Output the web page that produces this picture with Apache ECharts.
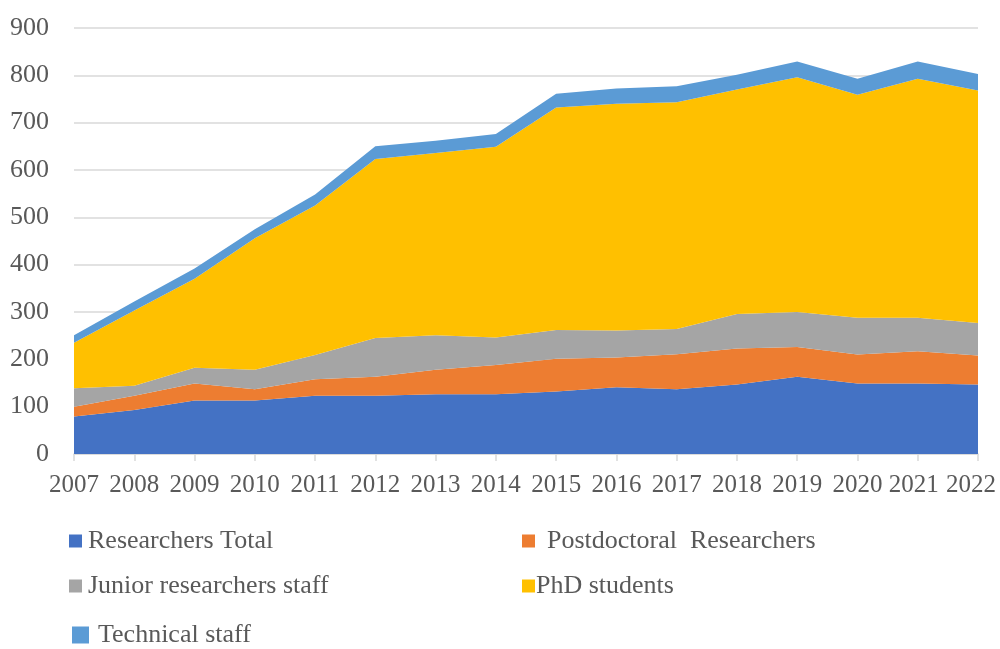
<!DOCTYPE html>
<html>
<head>
<meta charset="utf-8">
<script src="https://cdn.jsdelivr.net/npm/echarts@6/dist/echarts.min.js"></script>
<style>
  html, body { margin: 0; padding: 0; background: #ffffff; }
  #chart { width: 1000px; height: 649px; }
</style>
</head>
<body>
<div id="chart"></div>
<script>
// Staff headcount by year, stacked by category
const years = ['2007','2008','2009','2010','2011','2012','2013','2014','2015','2016','2017','2018','2019','2020','2021','2022'];
const researchersTotal = [79, 93, 113, 113, 123, 123, 126, 126, 132, 141, 137, 147, 163, 149, 149, 147];
const postdocs        = [21, 30, 36, 24, 35, 40, 52, 62, 69, 63, 74, 76, 63, 61, 68, 61];
const juniorStaff     = [39, 21, 33, 41, 51, 82, 73, 58, 61, 57, 53, 73, 74, 78, 71, 69];
const phdStudents     = [96, 159, 188, 278, 316, 378, 385, 403, 470, 479, 479, 474, 496, 471, 505, 491];
const technicalStaff  = [16, 19, 22, 19, 23, 27, 26, 27, 29, 32, 34, 31, 33, 34, 36, 35];

const seriesNames = ['Researchers Total', 'Postdoctoral  Researchers', 'Junior researchers staff', 'PhD students', 'Technical staff'];
const seriesData = [researchersTotal, postdocs, juniorStaff, phdStudents, technicalStaff];
const colors = ['#4472C4', '#ED7D31', '#A5A5A5', '#FFC000', '#5B9BD5'];

const FONT = '"Liberation Serif", "Times New Roman", serif';
const TEXT = '#595959';
const GRID = '#d9d9d9';

function legendAt(name, left, top, size, pad) {
  return {
    data: [name],
    left: left,
    top: top,
    padding: 0,
    itemWidth: size,
    itemHeight: size,
    itemGap: 0,
    icon: 'rect',
    selectedMode: false,
    textStyle: {
      fontFamily: FONT,
      fontSize: 26,
      lineHeight: 26,
      color: TEXT,
      padding: [0, 0, 0, pad]
    }
  };
}

const n = years.length;

const chart = echarts.init(document.getElementById('chart'), null, { renderer: 'canvas' });
chart.setOption({
  animation: false,
  color: colors,
  grid: { left: 74, right: 22, top: 28, bottom: 195, containLabel: false, outerBoundsMode: 'none' },
  legend: [
    legendAt(seriesNames[0], 69, 528, 13, 1),
    legendAt(seriesNames[1], 522, 528, 13, 7),
    legendAt(seriesNames[2], 69, 573, 13, 1),
    legendAt(seriesNames[3], 522, 573, 13, -4),
    legendAt(seriesNames[4], 72, 622, 17, 4)
  ],
  xAxis: {
    type: 'category',
    data: years,
    boundaryGap: false,
    axisLine: { show: true, lineStyle: { color: GRID, width: 1.5 } },
    axisTick: { show: true, length: 7, lineStyle: { color: GRID, width: 1.5 } },
    axisLabel: {
      fontFamily: FONT, fontSize: 25, color: TEXT, margin: 19, interval: 0,
      // nudge the last two years left so the final one stays inside the canvas
      formatter: (v, i) => (i === n - 1 ? '{edge2|' + v + '}' : i === n - 2 ? '{edge1|' + v + '}' : v),
      rich: {
        edge1: { fontFamily: FONT, fontSize: 25, color: TEXT, padding: [0, 8, 0, 0] },
        edge2: { fontFamily: FONT, fontSize: 25, color: TEXT, padding: [0, 14, 0, 0] }
      }
    },
    splitLine: { show: false }
  },
  yAxis: {
    type: 'value',
    min: 0,
    max: 900,
    interval: 100,
    axisLine: { show: false },
    axisTick: { show: false },
    axisLabel: { fontFamily: FONT, fontSize: 26, color: TEXT, margin: 25 },
    splitLine: { lineStyle: { color: GRID, width: 1.5 } }
  },
  series: seriesNames.map((name, i) => ({
    name: name,
    type: 'line',
    stack: 'total',
    data: seriesData[i],
    symbol: 'none',
    showSymbol: false,
    lineStyle: { width: 0 },
    areaStyle: { color: colors[i], opacity: 1 },
    itemStyle: { color: colors[i] },
    z: 2
  }))
});
</script>
</body>
</html>
